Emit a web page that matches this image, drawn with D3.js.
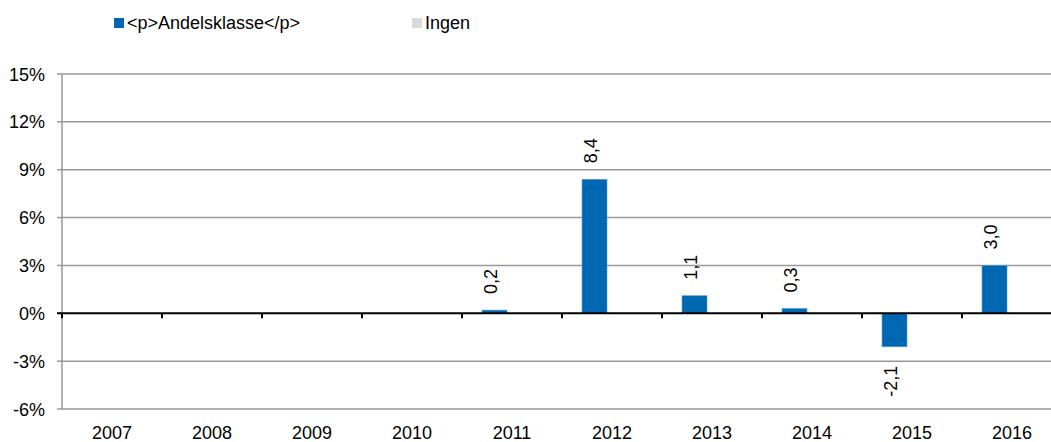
<!DOCTYPE html>
<html>
<head>
<meta charset="utf-8">
<script src="https://cdn.jsdelivr.net/npm/d3@7"></script>
<style>
  body { margin: 0; background: #fff; }
  svg { display: block; font-family: "Liberation Sans", Arial, sans-serif; }
</style>
</head>
<body>
<svg id="chart" width="1051" height="442"></svg>
<script>
const years = ["2007","2008","2009","2010","2011","2012","2013","2014","2015","2016"];
const seriesNames = ["<p>Andelsklasse</p>", "Ingen"];
const andelsklasse = [null, null, null, null, 0.2, 8.4, 1.1, 0.3, -2.1, 3.0];
const ingen = [null, null, null, null, null, null, null, null, null, null];
const yTicks = [-6, -3, 0, 3, 6, 9, 12, 15];

const svg = d3.select("#chart");
const plotLeft = 62, plotRight = 1062, plotTop = 74, plotBottom = 409;
const fs = 18;

const x = d3.scaleBand().domain(years).range([plotLeft, plotRight]).padding(0);
const xs = d3.scaleBand().domain(seriesNames).range([20, 70]).padding(0);
const y = d3.scaleLinear().domain([-6, 15]).range([plotBottom, plotTop]);

// horizontal grid
svg.append("g").selectAll("line").data(yTicks.filter(d => d !== 0)).join("line")
  .attr("x1", plotLeft).attr("x2", plotRight)
  .attr("y1", d => y(d)).attr("y2", d => y(d))
  .attr("stroke", "#999").attr("stroke-width", 1.5);

// left axis line and ticks
svg.append("line").attr("x1", plotLeft).attr("x2", plotLeft).attr("y1", plotTop).attr("y2", plotBottom)
  .attr("stroke", "#999").attr("stroke-width", 1.5);
svg.append("g").selectAll("line").data(yTicks).join("line")
  .attr("x1", plotLeft - 5).attr("x2", plotLeft).attr("y1", d => y(d)).attr("y2", d => y(d))
  .attr("stroke", "#999").attr("stroke-width", 1.5);

// y labels
svg.append("g").selectAll("text").data(yTicks).join("text")
  .attr("x", plotLeft - 17).attr("y", d => y(d) + 6.5)
  .attr("text-anchor", "end").attr("font-size", fs).attr("fill", "#000")
  .text(d => d + "%");

// bars
const rows = years.map((yr, i) => ({ yr, v: andelsklasse[i] })).filter(d => d.v !== null);
const bw = xs.bandwidth();
svg.append("g").selectAll("rect").data(rows).join("rect")
  .attr("x", d => x(d.yr) + xs(seriesNames[0]))
  .attr("width", bw)
  .attr("y", d => y(Math.max(0, d.v)))
  .attr("height", d => Math.abs(y(d.v) - y(0)))
  .attr("fill", "#0068b3")
  .attr("stroke", "#5a9bd5").attr("stroke-width", 0.6);

// zero line with category ticks
svg.append("line").attr("x1", plotLeft - 5).attr("x2", plotRight).attr("y1", y(0)).attr("y2", y(0))
  .attr("stroke", "#000").attr("stroke-width", 2);
svg.append("g").selectAll("line").data(years).join("line")
  .attr("x1", d => x(d)).attr("x2", d => x(d))
  .attr("y1", y(0)).attr("y2", y(0) + 5)
  .attr("stroke", "#000").attr("stroke-width", 2);

// x labels
svg.append("g").selectAll("text").data(years).join("text")
  .attr("x", d => x(d) + x.bandwidth() / 2).attr("y", 439)
  .attr("text-anchor", "middle").attr("font-size", fs).attr("fill", "#000")
  .text(d => d);

// value labels, rotated
const fmt = v => (v < 0 ? "-" : "") + Math.abs(v).toFixed(1).replace(".", ",");
svg.append("g").selectAll("text").data(rows).join("text")
  .attr("transform", d => {
    const cx = x(d.yr) + xs(seriesNames[0]) + bw / 2 + 2.5;
    const cy = d.v >= 0 ? y(d.v) - 16 : y(d.v) + 19;
    return `translate(${cx},${cy}) rotate(-90)`;
  })
  .attr("text-anchor", d => d.v >= 0 ? "start" : "end")
  .attr("font-size", fs).attr("fill", "#000")
  .text(d => fmt(d.v));

// legend
const legend = [
  { name: seriesNames[0], color: "#0068b3", x: 114 },
  { name: seriesNames[1], color: "#d9d9d9", x: 412 }
];
const lg = svg.append("g").selectAll("g").data(legend).join("g")
  .attr("transform", d => `translate(${d.x},18)`);
lg.append("rect").attr("width", 10).attr("height", 10).attr("fill", d => d.color);
lg.append("text").attr("x", 13).attr("y", 11).attr("font-size", fs).attr("fill", "#000")
  .text(d => d.name);
</script>
</body>
</html>
